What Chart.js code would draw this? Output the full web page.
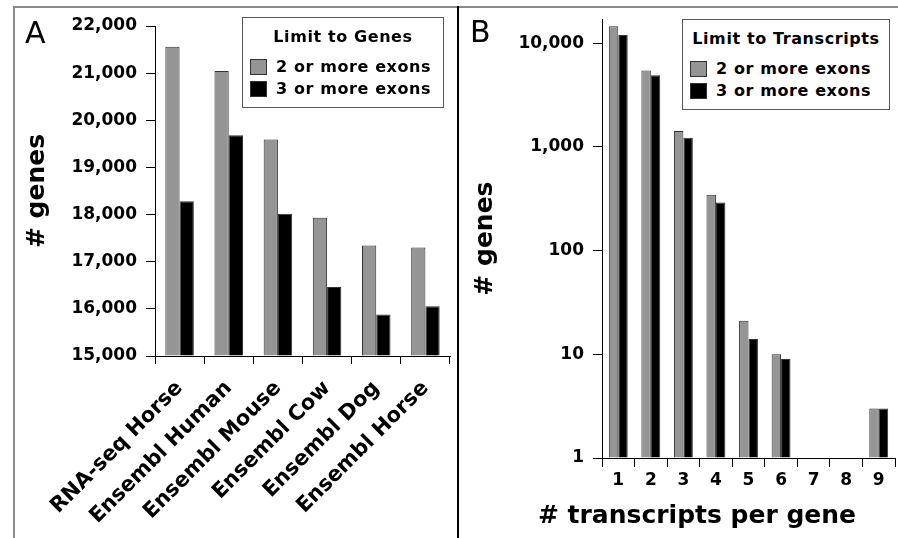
<!DOCTYPE html>
<html>
<head>
<meta charset="utf-8">
<script src="https://cdn.jsdelivr.net/npm/chart.js@4.4.0/dist/chart.umd.min.js"></script>
<style>
    body { margin: 0; background: #fff; font-family: "DejaVu Sans", sans-serif; }
    #page { position: relative; width: 898px; height: 538px; overflow: hidden; background: #fff; }
    canvas { position: absolute; top: 0; }
    #chartA { left: 0; }
    #chartB { left: 460px; }
    .line { position: absolute; }
    .letter { position: absolute; font-size: 30px; line-height: 30px; color: #000; }
    .legend { position: absolute; border: 1px solid #555; background: #fff; box-sizing: border-box; color: #000; }
    .legend .lt { position: absolute; left: 0; top: 8px; width: 100%; text-align: center;
                  font-size: 16px; font-weight: bold; line-height: 22px; letter-spacing: 0.6px; }
    .legend .sw { position: absolute; width: 17px; height: 16px; box-sizing: border-box; border: 1px solid #333; }
    .legend .txt { position: absolute; font-size: 16px; font-weight: bold; line-height: 20px; letter-spacing: 0.6px; white-space: nowrap; }
    #xTitleB { position: absolute; left: 520px; top: 500px; width: 354px; text-align: center;
               font-size: 25px; font-weight: bold; line-height: 30px; color: #000; }
</style>
</head>
<body>
<div id="page">
    <div class="line" style="left:13px; top:6px; width:885px; height:2px; background:#8a8a8a;"></div>
    <div class="line" style="left:13px; top:6px; width:2px; height:532px; background:#8a8a8a;"></div>
    <div class="line" style="left:457px; top:6px; width:2px; height:532px; background:#000;"></div>

    <canvas id="chartA" width="458" height="538"></canvas>
    <canvas id="chartB" width="438" height="538"></canvas>

    <div class="letter" style="left:25px; top:18px;">A</div>
    <div class="letter" style="left:470px; top:17px;">B</div>

    <div class="legend" id="legendA" style="left:242px; top:17px; width:202px; height:91px;">
        <div class="lt">Limit to Genes</div>
    </div>
    <div class="legend" id="legendB" style="left:682px; top:19px; width:208px; height:91px;">
        <div class="lt">Limit to Transcripts</div>
    </div>

    <div id="xTitleB"># transcripts per gene</div>
</div>

<script>
    // Panel A: genes per annotation
    const geneCategories = ['RNA-seq Horse', 'Ensembl Human', 'Ensembl Mouse', 'Ensembl Cow', 'Ensembl Dog', 'Ensembl Horse'];
    const genes2Exons = [21560, 21045, 19590, 17930, 17345, 17300];
    const genes3Exons = [18280, 19680, 18015, 16465, 15880, 16055];

    // Panel B: genes by number of transcripts (log scale)
    const transcriptCategories = ['1', '2', '3', '4', '5', '6', '7', '8', '9'];
    const transcripts2Exons = [14500, 5450, 1420, 346, 21, 10, null, null, 3];
    const transcripts3Exons = [12000, 4900, 1220, 290, 14, 9, null, null, 3];
    const transcriptTicks = [1, 10, 100, 1000, 10000];

    const seriesLabels = ['2 or more exons', '3 or more exons'];
    const seriesColors = ['#959595', '#000000'];

    const FONT = '"DejaVu Sans", sans-serif';
    Chart.defaults.font.family = FONT;
    Chart.defaults.color = '#000';

    function makeDatasets(values, base) {
        return values.map((vals, i) => ({
            label: seriesLabels[i],
            data: vals,
            backgroundColor: seriesColors[i],
            borderColor: '#333',
            borderWidth: 1,
            base: base,
            categoryPercentage: 0.58,
            barPercentage: 1.0
        }));
    }

    // Function to build the shared axis styling
    function axisGrid(len) {
        return { drawOnChartArea: false, drawTicks: true, tickLength: len, color: '#000', lineWidth: 1 };
    }

    new Chart(document.getElementById('chartA'), {
        type: 'bar',
        data: {
            labels: geneCategories,
            datasets: makeDatasets([genes2Exons, genes3Exons], 15000)
        },
        options: {
            responsive: false,
            animation: false,
            layout: { padding: { left: 0, right: 8, top: 26, bottom: 0 } },
            plugins: { legend: { display: false }, tooltip: { enabled: false } },
            scales: {
                x: {
                    grid: { ...axisGrid(8), offset: true },
                    border: { color: '#000', width: 1 },
                    ticks: { autoSkip: false, minRotation: 45, maxRotation: 45, padding: 12,
                             font: { size: 21, weight: 'bold' }, color: '#000' },
                    afterFit: s => { s.height = 182; }
                },
                y: {
                    min: 15000,
                    max: 22000,
                    grid: axisGrid(9),
                    border: { color: '#000', width: 1 },
                    ticks: { stepSize: 1000, padding: 9, font: { size: 17, weight: 'bold' }, color: '#000',
                             callback: v => v.toLocaleString('en-US') },
                    title: { display: true, text: '# genes', color: '#000',
                             font: { size: 25, weight: 'bold' }, padding: { top: 22, bottom: 0 } },
                    afterFit: s => { s.width = 155; }
                }
            }
        }
    });

    new Chart(document.getElementById('chartB'), {
        type: 'bar',
        data: {
            labels: transcriptCategories,
            datasets: makeDatasets([transcripts2Exons, transcripts3Exons], 1)
        },
        options: {
            responsive: false,
            animation: false,
            layout: { padding: { left: 0, right: 3, top: 15, bottom: 0 } },
            plugins: { legend: { display: false }, tooltip: { enabled: false } },
            scales: {
                x: {
                    grid: { ...axisGrid(9), offset: true },
                    border: { color: '#000', width: 1 },
                    ticks: { autoSkip: false, maxRotation: 0, padding: 3,
                             font: { size: 17, weight: 'bold' }, color: '#000' },
                    afterFit: s => { s.height = 80; }
                },
                y: {
                    type: 'logarithmic',
                    min: 1,
                    max: 17000,
                    grid: axisGrid(9),
                    border: { color: '#000', width: 1 },
                    afterBuildTicks: s => { s.ticks = transcriptTicks.map(v => ({ value: v })); },
                    ticks: { padding: 9, font: { size: 17, weight: 'bold' }, color: '#000',
                             callback: v => Number(v).toLocaleString('en-US') },
                    title: { display: true, text: '# genes', color: '#000',
                             font: { size: 25, weight: 'bold' }, padding: { top: 10, bottom: 0 } },
                    afterFit: s => { s.width = 142; }
                }
            }
        }
    });

    // Legend entries built from the series arrays
    function fillLegend(id, textLeft, swLeft) {
        const box = document.getElementById(id);
        seriesLabels.forEach((label, i) => {
            const top = 41 + i * 22;
            const sw = document.createElement('div');
            sw.className = 'sw';
            sw.style.left = swLeft + 'px';
            sw.style.top = top + 'px';
            sw.style.background = seriesColors[i];
            box.appendChild(sw);
            const t = document.createElement('div');
            t.className = 'txt';
            t.style.left = textLeft + 'px';
            t.style.top = (top - 2) + 'px';
            t.textContent = label;
            box.appendChild(t);
        });
    }
    fillLegend('legendA', 33, 7);
    fillLegend('legendB', 33, 7);
</script>
</body>
</html>
